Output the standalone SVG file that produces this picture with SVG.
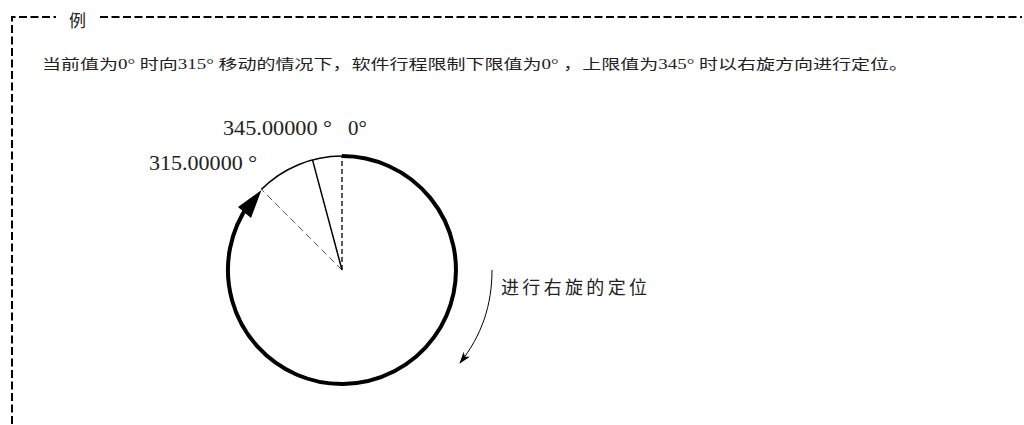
<svg xmlns="http://www.w3.org/2000/svg" width="1024" height="425" viewBox="0 0 1024 425">
<style>
.cjk{font-family:"Liberation Serif","Noto Sans CJK SC",serif;fill:#222}
.num{font-family:"Liberation Serif","Noto Sans CJK SC",serif;fill:#222;font-size:21px}
.frame{fill:none;stroke:#000;stroke-width:2;stroke-dasharray:8 3.5}
</style>
<defs>
<marker id="ah" viewBox="0 0 12 8" refX="11" refY="4" markerWidth="12" markerHeight="8" markerUnits="userSpaceOnUse" orient="auto">
<path d="M0,0 L12,4 L0,8 L3,4 Z" fill="#000"/>
</marker>
</defs>
<rect width="1024" height="425" fill="#fff"/>
<g id="frame">
<path class="frame" d="M12,424 V17 H56"/>
<path class="frame" d="M100,17 H1022"/>
<text class="cjk" x="69" y="26.5" font-size="17">例</text>
</g>
<g id="caption">
<text class="cjk" x="42" y="69" font-size="14" textLength="866" lengthAdjust="spacingAndGlyphs">当前值为0° 时向315° 移动的情况下，软件行程限制下限值为0° ，上限值为345° 时以右旋方向进行定位。</text>
</g>
<g id="labels">
<text class="num" x="223" y="135" textLength="109" lengthAdjust="spacingAndGlyphs">345.00000 °</text>
<text class="num" x="348" y="135">0°</text>
<text class="num" x="149" y="170" textLength="108" lengthAdjust="spacingAndGlyphs">315.00000 °</text>
</g>
<g id="circle">
<path d="M261.4,189.4 A114,114 0 0 1 342,156" fill="none" stroke="#000" stroke-width="1.5"/>
<path d="M342,156 A114,114 0 1 1 249,204" fill="none" stroke="#000" stroke-width="4"/>
<polygon points="261.5,190 238,207 251,218" fill="#000"/>
</g>
<g id="radii">
<line x1="342" y1="270" x2="342" y2="156" stroke="#000" stroke-width="1.3" stroke-dasharray="5 3"/>
<line x1="342" y1="270" x2="261.4" y2="189.4" stroke="#555" stroke-width="1" stroke-dasharray="7 4"/>
<line x1="342" y1="270" x2="312.5" y2="159.9" stroke="#000" stroke-width="1.5"/>
</g>
<g id="connectors">
<path d="M492,270 C492,305 482,335 460,363" fill="none" stroke="#000" stroke-width="1" marker-end="url(#ah)"/>
</g>
<g id="rotation-label">
<text class="cjk" x="501" y="294" font-size="18" textLength="146" lengthAdjust="spacing">进行右旋的定位</text>
</g>
</svg>
